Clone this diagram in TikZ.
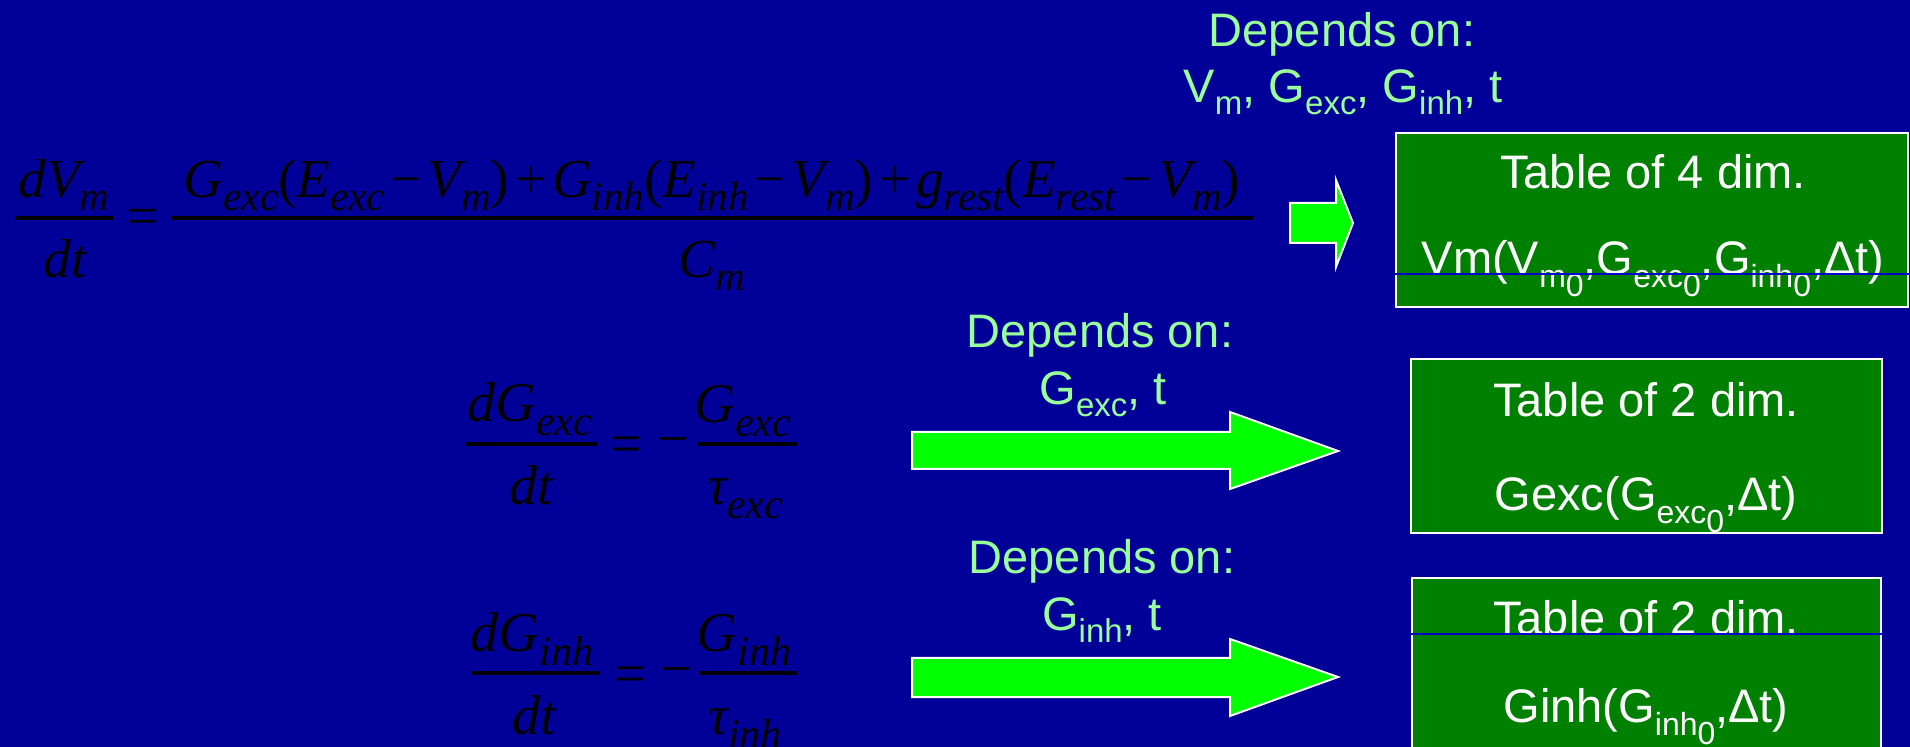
\documentclass[tikz,border=0pt]{standalone}
\usepackage{fontspec}
\setmainfont{Liberation Sans}
\newfontfamily\tnr{Liberation Serif}
\definecolor{bgblue}{HTML}{000099}
\definecolor{boxgreen}{HTML}{008000}
\definecolor{arrgreen}{HTML}{00FF00}
\definecolor{lblgreen}{HTML}{99FF99}
\definecolor{lineblue}{HTML}{0000CC}
\newcommand\lsub[1]{\raisebox{-6pt}{\fontsize{16.5}{16.5}\selectfont #1}}
\newcommand\bsubz[2]{\raisebox{-6.5pt}{\fontsize{16}{16}\selectfont #1\raisebox{-4.5pt}{#2}}}
\newcommand\esubA[1]{\raisebox{-6.5pt}{\fontsize{20.5}{20.5}\selectfont\itshape #1}}
\newcommand\esubB[1]{\raisebox{-7pt}{\fontsize{21}{21}\selectfont\itshape #1}}
\newcommand\op[1]{\hspace{3pt}{\upshape #1}\hspace{3pt}}
\newcommand\pl{{\upshape(}}
\newcommand\pr{{\upshape)}}
\tikzset{
  lbl/.style={text=lblgreen, font=\fontsize{23.5}{28}\selectfont, anchor=base, inner sep=0pt},
  btxt/.style={text=white, font=\fontsize{23.5}{28}\selectfont, anchor=base, inner sep=0pt},
  tbox/.style={draw=white, fill=boxgreen, line width=1pt, inner sep=0pt},
  blockarrow/.style={fill=arrgreen, draw=white, line width=1pt, line join=miter},
  eqA/.style={font=\fontsize{27.5}{27.5}\selectfont\tnr\itshape, anchor=base, inner sep=0pt, text=black},
  eqB/.style={font=\fontsize{28}{28}\selectfont\tnr\itshape, anchor=base, inner sep=0pt, text=black},
  fbar/.style={line width=1.7pt, black},
  bline/.style={draw=lineblue, line width=0.6pt}
}
\begin{document}
\begin{tikzpicture}[x=0.5pt,y=-0.5pt]
\fill[bgblue] (0,0) rectangle (1910,747);
\useasboundingbox (0,0) rectangle (1910,747);

% boxes
\node[tbox, minimum width=256pt, minimum height=87pt] (box1) at (1652,220) {};
\node[tbox, minimum width=235.5pt, minimum height=87pt] (box2) at (1646.5,446) {};
\node[tbox, minimum width=234.5pt, minimum height=87pt] (box3) at (1646.5,665) {};
\node[btxt] (b1a) at (1653,189) {Table of 4 dim.};
\node[btxt] (b1b) at (1653,275) {Vm(V\bsubz{m}{0},G\bsubz{exc}{0},G\bsubz{inh}{0},Δt)};
\node[btxt] (b2a) at (1646,417) {Table of 2 dim.};
\node[btxt] (b2b) at (1646,511) {Gexc(G\bsubz{exc}{0},Δt)};
\node[btxt] (b3a) at (1646,634) {Table of 2 dim.};
\node[btxt] (b3b) at (1646,722) {Ginh(G\bsubz{inh}{0},Δt)};
\draw[bline] (box1.west |- 0,274) -- (box1.east |- 0,274);
\draw[bline] (box3.west |- 0,634) -- (box3.east |- 0,634);

% labels
\node[lbl] (l1a) at (1342,47) {Depends on:};
\node[lbl] (l1b) at (1343,103) {V\lsub{m}, G\lsub{exc}, G\lsub{inh}, t};
\node[lbl] (l2a) at (1100,348) {Depends on:};
\node[lbl] (l2b) at (1103,405) {G\lsub{exc}, t};
\node[lbl] (l3a) at (1102,574) {Depends on:};
\node[lbl] (l3b) at (1102,631) {G\lsub{inh}, t};

% block arrows
\draw[blockarrow] (1290,203) -- (1336,203) -- (1336,180) -- (1353,223) -- (1336,267) -- (1336,243) -- (1290,243) -- cycle;
\draw[blockarrow] (912,432) -- (1230,432) -- (1230,412) -- (1338,451) -- (1230,489) -- (1230,469) -- (912,469) -- cycle;
\draw[blockarrow] (912,658) -- (1230,658) -- (1230,639) -- (1338,677) -- (1230,716) -- (1230,697) -- (912,697) -- cycle;

% equation 1
\node[eqA] (e1n) at (64,198) {dV\esubA{m}};
\draw[fbar] (15,218) -- (113,218);
\node[eqA] (e1d) at (65,278) {dt};
\node[eqA] (e1eq) at (143,235) {\upshape =};
\node[eqA] (e1N) at (712,198) {G\esubA{exc}\pl E\esubA{exc}\op{−}V\esubA{m}\pr\op{+}G\esubA{inh}\pl E\esubA{inh}\op{−}V\esubA{m}\pr\op{+}g\esubA{rest}\pl E\esubA{rest}\op{−}V\esubA{m}\pr};
\draw[fbar] (171,218) -- (1253,218);
\node[eqA] (e1D) at (712,278) {C\esubA{m}};

% equation 2
\node[eqB] (e2ln) at (530,422) {dG\esubB{exc}};
\draw[fbar] (466,444) -- (597,444);
\node[eqB] (e2ld) at (531,505) {dt};
\node[eqB] (e2eq) at (626,463) {\upshape =};
\node[eqB] (e2mi) at (673,458) {\upshape −};
\draw[fbar] (697,444) -- (797,444);
\node[eqB] (e2rn) at (743,423) {G\esubB{exc}};
\node[eqB] (e2rd) at (745,505) {τ\esubB{exc}};

% equation 3
\node[eqB] (e3ln) at (532,652) {dG\esubB{inh}};
\draw[fbar] (472,673) -- (600,673);
\node[eqB] (e3ld) at (534,734) {dt};
\node[eqB] (e3eq) at (630,692) {\upshape =};
\node[eqB] (e3mi) at (676,687) {\upshape −};
\draw[fbar] (700,673) -- (797,673);
\node[eqB] (e3rn) at (744,652) {G\esubB{inh}};
\node[eqB] (e3rd) at (745,734) {τ\esubB{inh}};
\end{tikzpicture}
\end{document}
